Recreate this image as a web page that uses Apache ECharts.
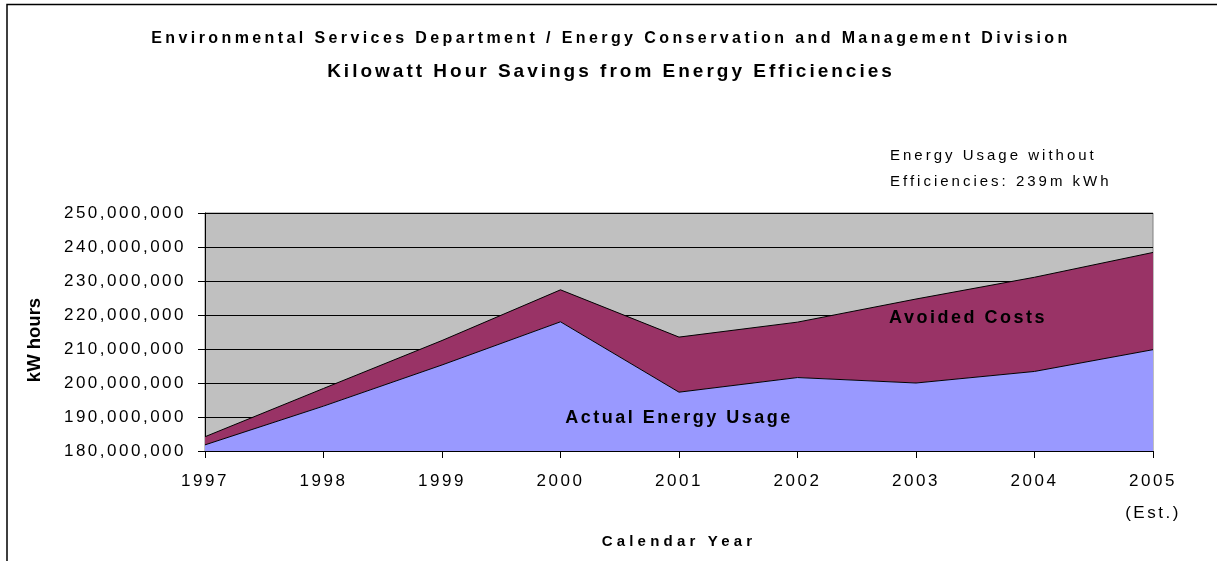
<!DOCTYPE html>
<html>
<head>
<meta charset="utf-8">
<script src="https://cdn.jsdelivr.net/npm/echarts@6/dist/echarts.min.js"></script>
<style>
html,body{margin:0;padding:0;background:#fff;}
#chart{width:1217px;height:561px;}
</style>
</head>
<body>
<div id="chart"></div>
<script>
// ---- data ----
const years = ['1997','1998','1999','2000','2001','2002','2003','2004','2005'];
const xTickLabels = ['1997','1998','1999','2000','2001','2002','2003','2004','2005\n(Est.)'];
const actualUsage = [181800000, 193200000, 205300000, 218000000, 197300000, 201600000, 200000000, 203400000, 209800000];
const avoidedCosts = [2400000, 5200000, 7200000, 9400000, 16200000, 16300000, 24700000, 27700000, 28600000];
const yTicks = [180000000, 250000000, 10000000]; // min, max, step

// Excel-like wide letter spacing for canvas text, chosen by font weight/size
const SPACING = {'n17': 2.5, 'n15': 3.0, 'b16': 3.4, 'b19': 3.0, 'b18': 2.5, 'b15': 4.2, 'b18.5': 0};
(function(){
  const P = CanvasRenderingContext2D.prototype;
  const f = P.fillText;
  P.fillText = function(t, x, y, m){
    try {
      const fs = this.font || '';
      const bold = /bold|[6-9]00/.test(fs);
      const mm = fs.match(/(\d+(?:\.\d+)?)px/);
      const key = (bold ? 'b' : 'n') + (mm ? parseFloat(mm[1]) : '');
      const s = SPACING[key];
      this.letterSpacing = (s === undefined ? 2.5 : s) + 'px';
    } catch(e) {}
    return m === undefined ? f.call(this, t, x, y) : f.call(this, t, x, y, m);
  };
})();

const FF = "'Liberation Sans', Arial, sans-serif";
const chart = echarts.init(document.getElementById('chart'), null, {renderer:'canvas'});

chart.setOption({
  animation: false,
  backgroundColor: '#ffffff',
  textStyle: {fontFamily: FF, color: '#000'},
  title: [
    {text: 'Environmental Services Department / Energy Conservation and Management Division',
     left: 606, top: 26, textAlign: 'center',
     textStyle: {fontFamily: FF, fontSize: 16, fontWeight: 'bold', color: '#000'}},
    {text: 'Kilowatt Hour Savings from Energy Efficiencies',
     left: 606, top: 57, textAlign: 'center',
     textStyle: {fontFamily: FF, fontSize: 19, fontWeight: 'bold', color: '#000'}}
  ],
  grid: {left: 205, right: 64, top: 213, bottom: 110, show: true,
         backgroundColor: '#C0C0C0', borderColor: '#808080', borderWidth: 1},
  xAxis: {
    type: 'category', data: xTickLabels, boundaryGap: false,
    axisLine: {show: true, lineStyle: {color: '#000', width: 1}},
    axisTick: {show: true, length: 7, lineStyle: {color: '#000'}},
    axisLabel: {fontFamily: FF, fontSize: 17, color: '#000', margin: 14, lineHeight: 32, interval: 0},
    splitLine: {show: false},
    name: 'Calendar Year', nameLocation: 'middle', nameGap: 83,
    nameTextStyle: {fontFamily: FF, fontSize: 15, fontWeight: 'bold', color: '#000'}
  },
  yAxis: {
    type: 'value', min: yTicks[0], max: yTicks[1], interval: yTicks[2],
    axisLine: {show: true, lineStyle: {color: '#000', width: 1}},
    axisTick: {show: true, length: 7, lineStyle: {color: '#000'}},
    axisLabel: {fontFamily: FF, fontSize: 17, color: '#000', margin: 19,
                formatter: v => v.toLocaleString('en-US')},
    splitLine: {show: true, lineStyle: {color: '#000', width: 1}}
  },
  series: [
    {name: 'Actual Energy Usage', type: 'line', stack: 'total', data: actualUsage,
     symbol: 'none', lineStyle: {color: '#000', width: 1},
     areaStyle: {color: '#9999FF', opacity: 1}, z: 3},
    {name: 'Avoided Costs', type: 'line', stack: 'total', data: avoidedCosts,
     symbol: 'none', lineStyle: {color: '#000', width: 1},
     areaStyle: {color: '#993366', opacity: 1}, z: 2}
  ],
  graphic: [
    {type: 'polyline', shape: {points: [[7, 561], [7, 4.5], [1217, 4.5]]},
     style: {stroke: '#000', lineWidth: 1.5, fill: null}, silent: true},
    {type: 'text', x: 35, y: 340, rotation: Math.PI / 2,
     style: {text: 'kW hours', align: 'center', verticalAlign: 'middle',
             fontFamily: FF, fontSize: 18.5, fontWeight: 'bold', fill: '#000'}},
    {type: 'text', left: 890, top: 148,
     style: {text: 'Energy Usage without', fontFamily: FF, fontSize: 15, fill: '#000'}},
    {type: 'text', left: 890, top: 174,
     style: {text: 'Efficiencies: 239m kWh', fontFamily: FF, fontSize: 15, fill: '#000'}},
    {type: 'text', x: 968, y: 318, z: 10,
     style: {text: 'Avoided Costs', align: 'center', verticalAlign: 'middle',
             fontFamily: FF, fontSize: 18, fontWeight: 'bold', fill: '#000'}},
    {type: 'text', x: 679, y: 418, z: 10,
     style: {text: 'Actual Energy Usage', align: 'center', verticalAlign: 'middle',
             fontFamily: FF, fontSize: 18, fontWeight: 'bold', fill: '#000'}}
  ]
});
</script>
</body>
</html>
